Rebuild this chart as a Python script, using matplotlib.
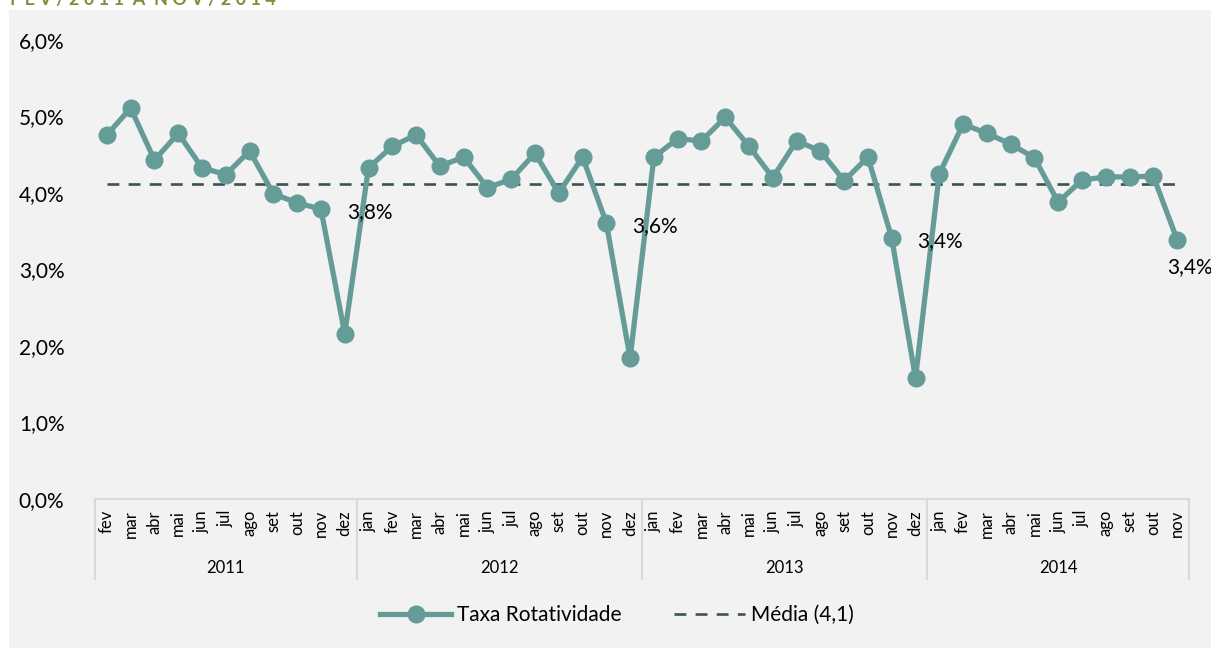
import matplotlib.pyplot as plt
import matplotlib.patches as mpatches
from matplotlib.lines import Line2D

plt.rcParams['font.family'] = ['Lato', 'DejaVu Sans']

# dados: taxa de rotatividade mensal (%), fev/2011 a nov/2014
anos = ['2011', '2012', '2013', '2014']
meses_2011 = ['fev', 'mar', 'abr', 'mai', 'jun', 'jul', 'ago', 'set', 'out', 'nov', 'dez']
meses_ano = ['jan', 'fev', 'mar', 'abr', 'mai', 'jun', 'jul', 'ago', 'set', 'out', 'nov', 'dez']
meses_2014 = meses_ano[:11]

taxa_2011 = [4.76, 5.11, 4.43, 4.78, 4.33, 4.24, 4.55, 3.99, 3.87, 3.79, 2.16]
taxa_2012 = [4.33, 4.61, 4.76, 4.35, 4.47, 4.07, 4.18, 4.52, 4.00, 4.47, 3.61, 1.84]
taxa_2013 = [4.47, 4.71, 4.68, 4.99, 4.61, 4.20, 4.68, 4.55, 4.16, 4.47, 3.41, 1.58]
taxa_2014 = [4.25, 4.90, 4.78, 4.64, 4.46, 3.88, 4.17, 4.21, 4.21, 4.22, 3.39]
media = 4.12

rotulos_nov = ['3,8%', '3,6%', '3,4%', '3,4%']

meses = meses_2011 + meses_ano + meses_ano + meses_2014
taxa = taxa_2011 + taxa_2012 + taxa_2013 + taxa_2014
n_por_ano = [len(meses_2011), 12, 12, len(meses_2014)]
x = list(range(len(taxa)))

cor_linha = '#669c98'
cor_media = '#3b5450'
cor_fundo = '#f2f2f2'
cor_grade = '#d9d9d9'

fig = plt.figure(figsize=(12.11, 6.48), dpi=100)
fig.patch.set_facecolor('white')

# painel cinza de fundo
fig.patches.append(mpatches.Rectangle((9 / 1211, 0), 1 - 9 / 1211, 1 - 10 / 648,
                                      transform=fig.transFigure, facecolor=cor_fundo,
                                      edgecolor='none', zorder=-10))

# titulo (cortado no topo, como no original)
fig.text(10 / 1211, 1 - 5 / 648, 'F E V / 2 0 1 1  A  N O V / 2 0 1 4', color='#8a8a3c',
         fontsize=13, fontweight='bold', ha='left', va='baseline')

ax = fig.add_axes([95 / 1211, 149 / 648, 1094 / 1211, 459 / 648])
ax.set_facecolor(cor_fundo)

linha, = ax.plot(x, taxa, color=cor_linha, lw=3.8, marker='o', markersize=12,
                 clip_on=False, zorder=3, solid_capstyle='round')
tracejada, = ax.plot([x[0], x[-1]], [media, media], color=cor_media, lw=1.9,
                     dashes=(4.5, 3.5), zorder=2)

ax.set_xlim(-0.5, len(taxa) - 0.5)
ax.set_ylim(0, 6)
ax.set_yticks([0, 1, 2, 3, 4, 5, 6])
ax.set_yticklabels(['0,0%', '1,0%', '2,0%', '3,0%', '4,0%', '5,0%', '6,0%'], fontsize=15)
ax.tick_params(axis='y', length=0, pad=22)
ax.set_xticks([])
for s in ['left', 'right', 'top']:
    ax.spines[s].set_visible(False)
ax.spines['bottom'].set_color(cor_grade)
ax.spines['bottom'].set_linewidth(1.5)

# rotulos de mes (verticais) e separadores de ano
trans = ax.get_xaxis_transform()
for xi, m in zip(x, meses):
    ax.text(xi, -11 / 459, m, rotation=90, ha='center', va='top', fontsize=12,
            transform=trans, clip_on=False)

inicio = 0
ax.plot([inicio - 0.5, inicio - 0.5], [0, -80 / 459], color=cor_grade, lw=1.5,
        transform=trans, clip_on=False)
for ano, n in zip(anos, n_por_ano):
    fim = inicio + n
    ax.plot([fim - 0.5, fim - 0.5], [0, -80 / 459], color=cor_grade, lw=1.5,
            transform=trans, clip_on=False)
    ax.text((inicio + fim - 1) / 2, -69 / 459, ano, ha='center', va='center',
            fontsize=12, transform=trans, clip_on=False)
    inicio = fim

# rotulos de dados nos meses de novembro
idx_nov = [i for i, m in enumerate(meses) if m == 'nov']
for k, (i, txt) in enumerate(zip(idx_nov, rotulos_nov)):
    if k < len(idx_nov) - 1:
        ax.annotate(txt, (i, taxa[i]), xytext=(35, -2), textcoords='offset points',
                    ha='center', va='center', fontsize=15, zorder=4)
    else:
        ax.annotate(txt, (i, taxa[i]), xytext=(9, -20), textcoords='offset points',
                    ha='center', va='center', fontsize=15, zorder=4, annotation_clip=False)

leg_taxa = Line2D([], [], color=cor_linha, lw=3.8, marker='o', markersize=12)
leg_media = Line2D([], [], color=cor_media, lw=1.9, dashes=(4.5, 3.5))
fig.legend([leg_taxa, leg_media], ['Taxa Rotatividade', 'Média (4,1)'],
           loc='center', bbox_to_anchor=(617 / 1211, 33 / 648), ncol=2, frameon=False,
           fontsize=15, handlelength=3.4, columnspacing=2.5, handletextpad=0.3)

fig.savefig('out.png', dpi=100, facecolor=fig.get_facecolor())
